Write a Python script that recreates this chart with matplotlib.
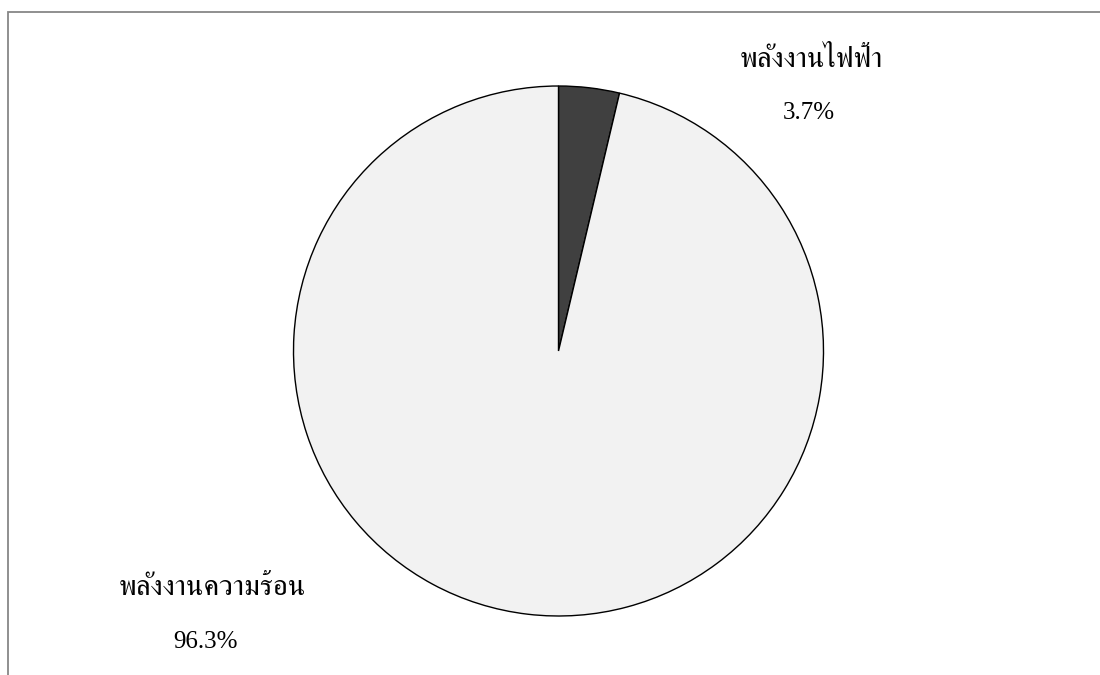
import matplotlib
matplotlib.use("Agg")
import matplotlib.pyplot as plt
from matplotlib import font_manager
from matplotlib.ft2font import FT2Font
from matplotlib.patches import Rectangle

# Energy share by type
categories = ["พลังงานไฟฟ้า", "พลังงานความร้อน"]
shares = [3.7, 96.3]
slice_colors = ["#404040", "#f2f2f2"]


def find_thai_family():
    """Return the name of an installed font that covers Thai script."""
    found = []
    for entry in font_manager.fontManager.ttflist:
        try:
            cmap = FT2Font(entry.fname).get_charmap()
        except Exception:
            continue
        if 0x0E1E in cmap and 0x0E31 in cmap:
            found.append(entry.name)
    serif_first = sorted(set(found), key=lambda n: (0 if "Serif" in n else 1, n))
    return serif_first[0] if serif_first else None


thai_family = find_thai_family()
families = ["Liberation Serif"]
if thai_family:
    families.append(thai_family)
families.append("DejaVu Serif")
plt.rcParams["font.family"] = families

W, H = 1100, 675
fig = plt.figure(figsize=(W / 100, H / 100), dpi=100)

# outer chart frame (runs off the right and bottom edges)
fig.patches.append(Rectangle((8 / W, -0.05), 1.2, (H - 12) / H + 0.05,
                             transform=fig.transFigure, fill=False,
                             edgecolor="#878787", linewidth=1.3))

cx, cy, r = 558.5, 351, 265
ax = fig.add_axes([(cx - r) / W, (H - cy - r) / H, 2 * r / W, 2 * r / H])
ax.pie(shares, colors=slice_colors, startangle=90, counterclock=False,
       radius=1.0, wedgeprops=dict(edgecolor="black", linewidth=1.0))
ax.set_xlim(-1.0, 1.0)
ax.set_ylim(-1.0, 1.0)
ax.set_aspect("equal")
ax.axis("off")

label_spots = [((811, 60), (809, 113)), ((212, 588), (205, 642))]
for name, val, (p_name, p_val) in zip(categories, shares, label_spots):
    fig.text(p_name[0] / W, 1 - p_name[1] / H, name, ha="center", va="center",
             fontsize=21, color="black")
    fig.text(p_val[0] / W, 1 - p_val[1] / H, f"{val:.1f}%", ha="center",
             va="center", fontsize=18, color="black")

fig.savefig("out.png", dpi=100, facecolor="white")
